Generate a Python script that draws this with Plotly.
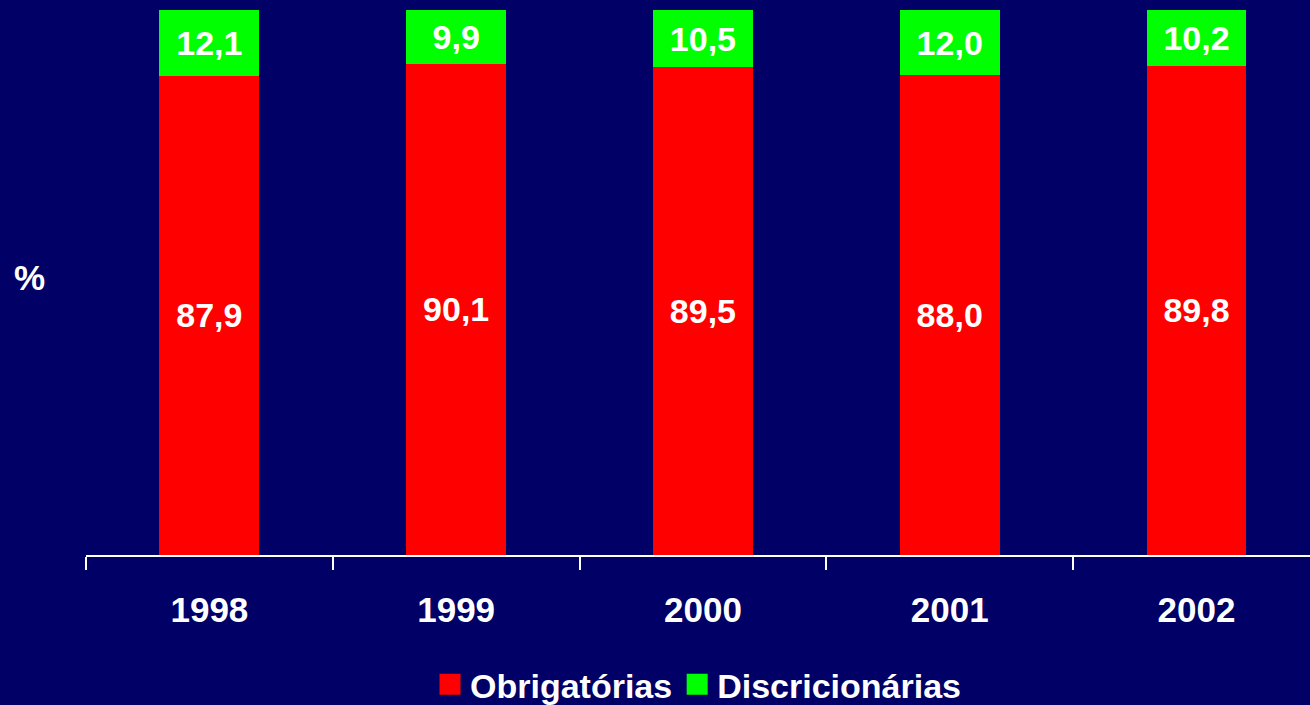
import plotly.graph_objects as go

years = ["1998", "1999", "2000", "2001", "2002"]
obrigatorias = [87.9, 90.1, 89.5, 88.0, 89.8]
discricionarias = [12.1, 9.9, 10.5, 12.0, 10.2]
series_names = ["Obrigatórias", "Discricionárias"]
series_colors = ["#FF0000", "#00FF00"]

def fmt(v):
    return f"{v:.1f}".replace(".", ",")

FONT = "Liberation Sans, Arial, sans-serif"
BG = "#000066"

fig = go.Figure()
for name, vals, col in zip(series_names, [obrigatorias, discricionarias], series_colors):
    fig.add_trace(go.Bar(
        x=years, y=vals, name=name, showlegend=False,
        marker=dict(color=col, line=dict(width=0)),
        text=[fmt(v) for v in vals], textposition="inside",
        insidetextanchor="middle",
        textfont=dict(family=FONT, size=34, color="white", weight="bold"),
        width=0.405,
    ))
for name, col in zip(series_names, series_colors):
    fig.add_trace(go.Scatter(
        x=[None], y=[None], mode="markers", name=name,
        marker=dict(symbol="square", size=22, color=col, line=dict(color=col, width=6)),
        showlegend=True,
    ))

fig.update_layout(
    barmode="stack",
    width=1310, height=705,
    paper_bgcolor=BG, plot_bgcolor=BG,
    margin=dict(l=86, r=0, t=10, b=150, autoexpand=False),
    font=dict(family=FONT, color="white", size=34, weight="bold"),
    uniformtext=dict(minsize=34, mode="show"),
    showlegend=True,
    legend=dict(
        orientation="h", x=0.5, xanchor="center", y=-0.238, yanchor="middle",
        font=dict(family=FONT, size=34, color="white", weight="bold"),
        bgcolor="rgba(0,0,0,0)", itemwidth=30, traceorder="normal",
        itemsizing="trace",
    ),
    xaxis=dict(
        type="category", range=[-0.5, 4.46],
        showline=True, linecolor="white", linewidth=2,
        ticks="outside", tickson="boundaries", ticklen=13, tickwidth=2, tickcolor="white",
        tickfont=dict(family=FONT, size=35, color="white", weight="bold"),
        showgrid=False, zeroline=False, ticklabelstandoff=23,
    ),
    yaxis=dict(
        range=[0, 100], visible=False, showgrid=False, zeroline=False,
    ),
    annotations=[dict(
        text="%", xref="paper", yref="paper", x=-0.046, y=0.51,
        xanchor="center", yanchor="middle", showarrow=False,
        font=dict(family=FONT, size=35, color="white", weight="bold"),
    )],
)

fig.write_html("out.html")
